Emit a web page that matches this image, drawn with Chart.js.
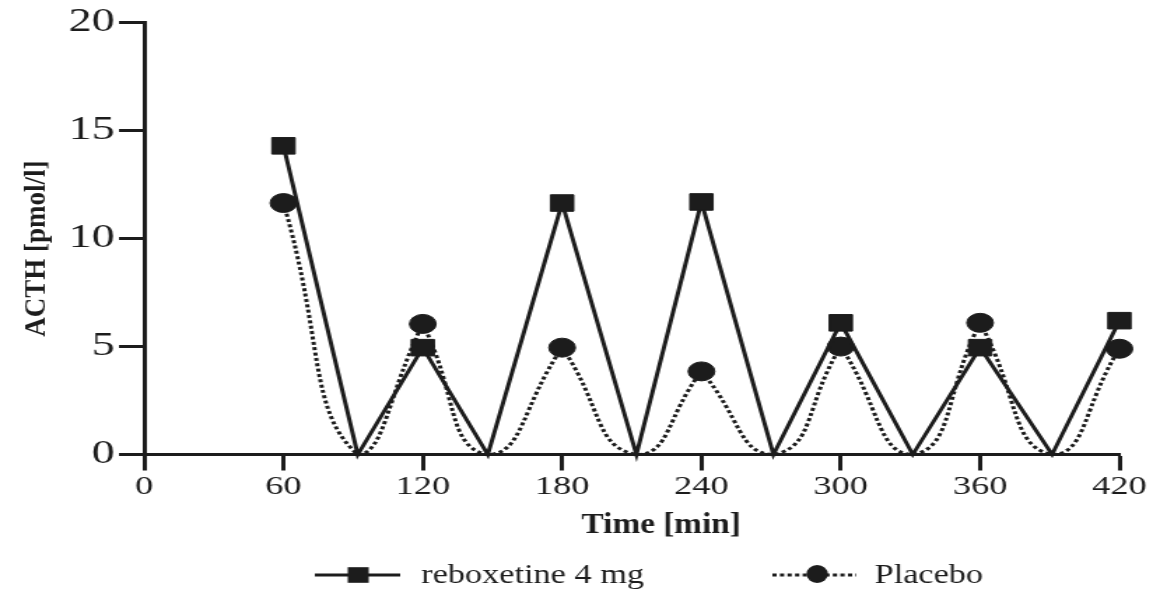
<!DOCTYPE html>
<html>
<head>
<meta charset="utf-8">
<script src="https://cdn.jsdelivr.net/npm/chart.js@4.4.1/dist/chart.umd.min.js"></script>
<style>
  html, body { margin: 0; padding: 0; background: #ffffff; }
</style>
</head>
<body>
<!-- the source figure is stretched sideways, so the canvas is drawn narrow and widened by css -->
<canvas id="acth-chart" width="824" height="590" style="display:block;width:1153px;height:590px"></canvas>
<script>
// Sampling times (min); the zero points sit between the blood draws
const times = [60, 92, 120, 148, 180, 212, 240, 271, 300, 331, 360, 391, 420];
const reboxetine = [14.3, 0, 4.95, 0, 11.65, 0, 11.7, 0, 6.1, 0, 4.95, 0, 6.2];
const placebo = [11.65, 0, 6.05, 0, 4.95, 0, 3.85, 0, 5.0, 0, 6.1, 0, 4.9];
const xTicks = [0, 60, 120, 180, 240, 300, 360, 420];
const yTicks = [0, 5, 10, 15, 20];
const seriesLabels = ['reboxetine 4 mg', 'Placebo'];
const xTitle = 'Time [min]';
const yTitle = 'ACTH [pmol/l]';

const ink = '#1c1c1c';
const serif = "'Liberation Serif', 'Times New Roman', serif";

function toPoints(values) {
    return values.map((v, i) => ({ x: times[i], y: v }));
}

// Placebo is drawn as curved "U" pieces: peak -> zero -> next peak
const placeboPieces = [];
for (let i = 0; i + 2 < times.length; i += 2) {
    placeboPieces.push({
        label: '',
        data: toPoints(placebo).slice(i, i + 3),
        borderColor: ink,
        borderWidth: 3,
        borderDash: [3, 2.4],
        tension: 0.55,
        pointRadius: 0,
        fill: false,
        clip: false
    });
}

// text in the figure is not widened as much as the plot, so squeeze it back a bit
function squeezedText(ctx, text, x, y, squeeze) {
    ctx.save();
    ctx.translate(x, y);
    ctx.scale(squeeze, 1);
    ctx.fillText(text, 0, 0);
    ctx.restore();
}

// Axis titles and legend drawn by hand so they sit where the figure has them
const figureText = {
    id: 'figureText',
    afterDraw(chart) {
        const ctx = chart.ctx;
        const area = chart.chartArea;
        const y = 575;
        ctx.save();
        ctx.strokeStyle = ink;
        ctx.fillStyle = ink;
        ctx.lineWidth = 3;

        // x title
        ctx.font = 'bold 29px ' + serif;
        ctx.textAlign = 'center';
        ctx.textBaseline = 'alphabetic';
        squeezedText(ctx, xTitle, (area.left + area.right) / 2 + 21, 533, 0.82);

        // y title, rotated
        ctx.save();
        ctx.font = 'bold 27px ' + serif;
        ctx.translate(32, (area.top + area.bottom) / 2 + 10);
        ctx.scale(0.8, 1);
        ctx.rotate(-Math.PI / 2);
        ctx.fillText(yTitle, 0, 0);
        ctx.restore();

        // legend samples
        ctx.beginPath();
        ctx.moveTo(225, y);
        ctx.lineTo(286, y);
        ctx.stroke();
        ctx.fillRect(256 - 7.5, y - 7.8, 15, 15.6);

        ctx.setLineDash([3, 2.4]);
        ctx.beginPath();
        ctx.moveTo(552, y);
        ctx.lineTo(612, y);
        ctx.stroke();
        ctx.setLineDash([]);
        ctx.beginPath();
        ctx.ellipse(584, y - 1, 7.7, 9, 0, 0, Math.PI * 2);
        ctx.fill();

        ctx.font = '28px ' + serif;
        ctx.textAlign = 'left';
        squeezedText(ctx, seriesLabels[0], 301, 583, 0.875);
        squeezedText(ctx, seriesLabels[1], 625, 583, 0.875);
        ctx.restore();
    }
};

const ctx = document.getElementById('acth-chart').getContext('2d');
new Chart(ctx, {
    type: 'line',
    data: {
        datasets: [
            {
                label: seriesLabels[0],
                data: toPoints(reboxetine),
                borderColor: ink,
                borderWidth: 3,
                tension: 0,
                pointStyle: 'rect',
                pointRadius: c => (c.raw && c.raw.y === 0 ? 0 : 11.7),
                pointBackgroundColor: ink,
                pointBorderColor: ink,
                pointBorderWidth: 1,
                fill: false,
                clip: false
            },
            {
                label: seriesLabels[1],
                data: toPoints(placebo),
                showLine: false,
                pointStyle: 'circle',
                pointRadius: c => (c.raw && c.raw.y === 0 ? 0 : 9.5),
                pointBackgroundColor: ink,
                pointBorderColor: ink,
                pointBorderWidth: 1,
                clip: false
            },
            ...placeboPieces
        ]
    },
    options: {
        responsive: false,
        animation: false,
        devicePixelRatio: 1,
        layout: {
            padding: { top: 22, right: 24, bottom: 45.5, left: 0 }
        },
        plugins: {
            legend: { display: false },
            tooltip: { enabled: false }
        },
        scales: {
            x: {
                type: 'linear',
                min: xTicks[0],
                max: xTicks[xTicks.length - 1],
                afterBuildTicks: scale => { scale.ticks = xTicks.map(v => ({ value: v })); },
                afterFit: scale => { scale.height = 90; },
                ticks: {
                    color: ink,
                    padding: 1,
                    maxRotation: 0,
                    font: { family: serif, size: 26 }
                },
                grid: {
                    drawOnChartArea: false,
                    drawTicks: true,
                    tickLength: 16,
                    tickWidth: 3,
                    tickColor: ink
                },
                border: { color: ink, width: 3 },
                title: { display: false }
            },
            y: {
                min: yTicks[0],
                max: yTicks[yTicks.length - 1],
                afterBuildTicks: scale => { scale.ticks = yTicks.map(v => ({ value: v })); },
                afterFit: scale => { scale.width = 103; },
                ticks: {
                    color: ink,
                    padding: 3,
                    font: { family: serif, size: 33 }
                },
                grid: {
                    drawOnChartArea: false,
                    drawTicks: true,
                    tickLength: 18,
                    tickWidth: 3,
                    tickColor: ink
                },
                border: { color: ink, width: 3 },
                title: { display: false }
            }
        }
    },
    plugins: [figureText]
});
</script>
</body>
</html>
